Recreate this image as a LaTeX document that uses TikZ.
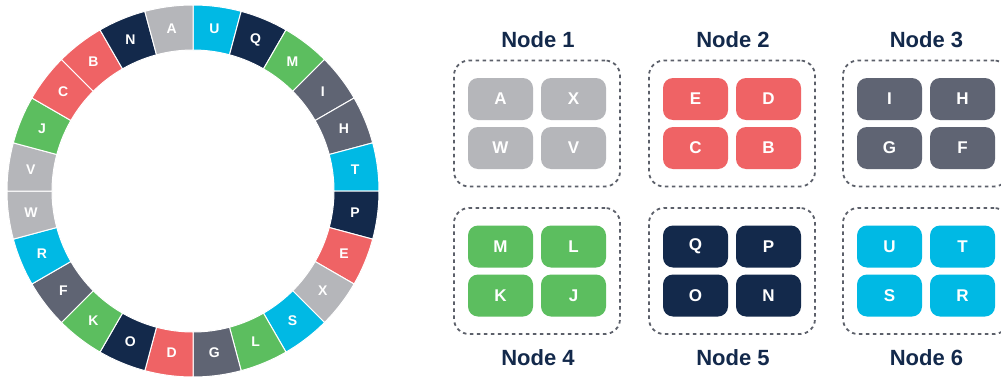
\documentclass[tikz,border=0pt]{standalone}
\usepackage{fontspec}
\setmainfont{Liberation Sans}
\definecolor{lg}{HTML}{B5B6BA}
\definecolor{cy}{HTML}{00B9E4}
\definecolor{nv}{HTML}{13294B}
\definecolor{gr}{HTML}{5CBE5F}
\definecolor{sl}{HTML}{5F6473}
\definecolor{rd}{HTML}{EF6365}
\definecolor{dashc}{HTML}{5C606A}
\newcommand\mkgroup[8]{%
  \node[groupbox] (#1) at (#2,#3) {};
  \node[tile=#4] (#1a) at ([shift={(-36.5,24.5)}]#1.center) {#5};
  \node[tile=#4] (#1b) at ([shift={(36.5,24.5)}]#1.center) {#6};
  \node[tile=#4] (#1c) at ([shift={(-36.5,-24.5)}]#1.center) {#7};
  \node[tile=#4] (#1d) at ([shift={(36.5,-24.5)}]#1.center) {#8};
}
\begin{document}
\begin{tikzpicture}[x=1pt,y=1pt,
  seglbl/.style={text=white, font=\bfseries\fontsize{14}{14}\selectfont, inner sep=0pt},
  tile/.style={fill=#1, rounded corners=10pt, minimum width=65pt, minimum height=42pt, text=white, font=\bfseries\fontsize{17}{17}\selectfont, inner sep=0pt},
  groupbox/.style={draw=dashc, dash pattern=on 3.5pt off 3.5pt, line width=1.8pt, rounded corners=15pt, minimum width=166pt, minimum height=126pt, inner sep=0pt},
  title/.style={text=nv, font=\bfseries\fontsize{22}{22}\selectfont, inner sep=0pt},
  seg/.style={fill=#1, draw=white, line width=1pt}]
\useasboundingbox (0,0) rectangle (1001,376);
\clip (0,0) rectangle (1001,376);
\fill[white] (0,0) rectangle (1001,376);
% ring
\begin{scope}[shift={(193,185)}]
\foreach \c/\l [count=\i] in {cy/U,nv/Q,gr/M,sl/I,sl/H,cy/T,nv/P,rd/E,lg/X,cy/S,gr/L,sl/G,rd/D,nv/O,gr/K,sl/F,cy/R,lg/W,lg/V,gr/J,rd/C,rd/B,nv/N,lg/A}{
  \pgfmathsetmacro\a{90-15*\i}
  \pgfmathsetmacro\b{105-15*\i}
  \pgfmathsetmacro\m{97.5-15*\i}
  \path[seg=\c] (\a:186) arc[start angle=\a, end angle=\b, radius=186] -- (\b:141) arc[start angle=\b, end angle=\a, radius=141] -- cycle;
  \node[seglbl] (ring\l) at (\m:163.5) {\l};
}
\end{scope}
% groups
\mkgroup{g1}{537}{252.5}{lg}{A}{X}{W}{V}
\mkgroup{g2}{732}{252.5}{rd}{E}{D}{C}{B}
\mkgroup{g3}{926}{252.5}{sl}{I}{H}{G}{F}
\mkgroup{g4}{537}{105}{gr}{M}{L}{K}{J}
\mkgroup{g5}{732}{105}{nv}{Q}{P}{O}{N}
\mkgroup{g6}{926}{105}{cy}{U}{T}{S}{R}
\node[title] (n1) at (538,336) {Node 1};
\node[title] (n2) at (733,336) {Node 2};
\node[title] (n3) at (926.5,336) {Node 3};
\node[title] (n4) at (538,18) {Node 4};
\node[title] (n5) at (733,18) {Node 5};
\node[title] (n6) at (926.5,18) {Node 6};
\end{tikzpicture}
\end{document}
